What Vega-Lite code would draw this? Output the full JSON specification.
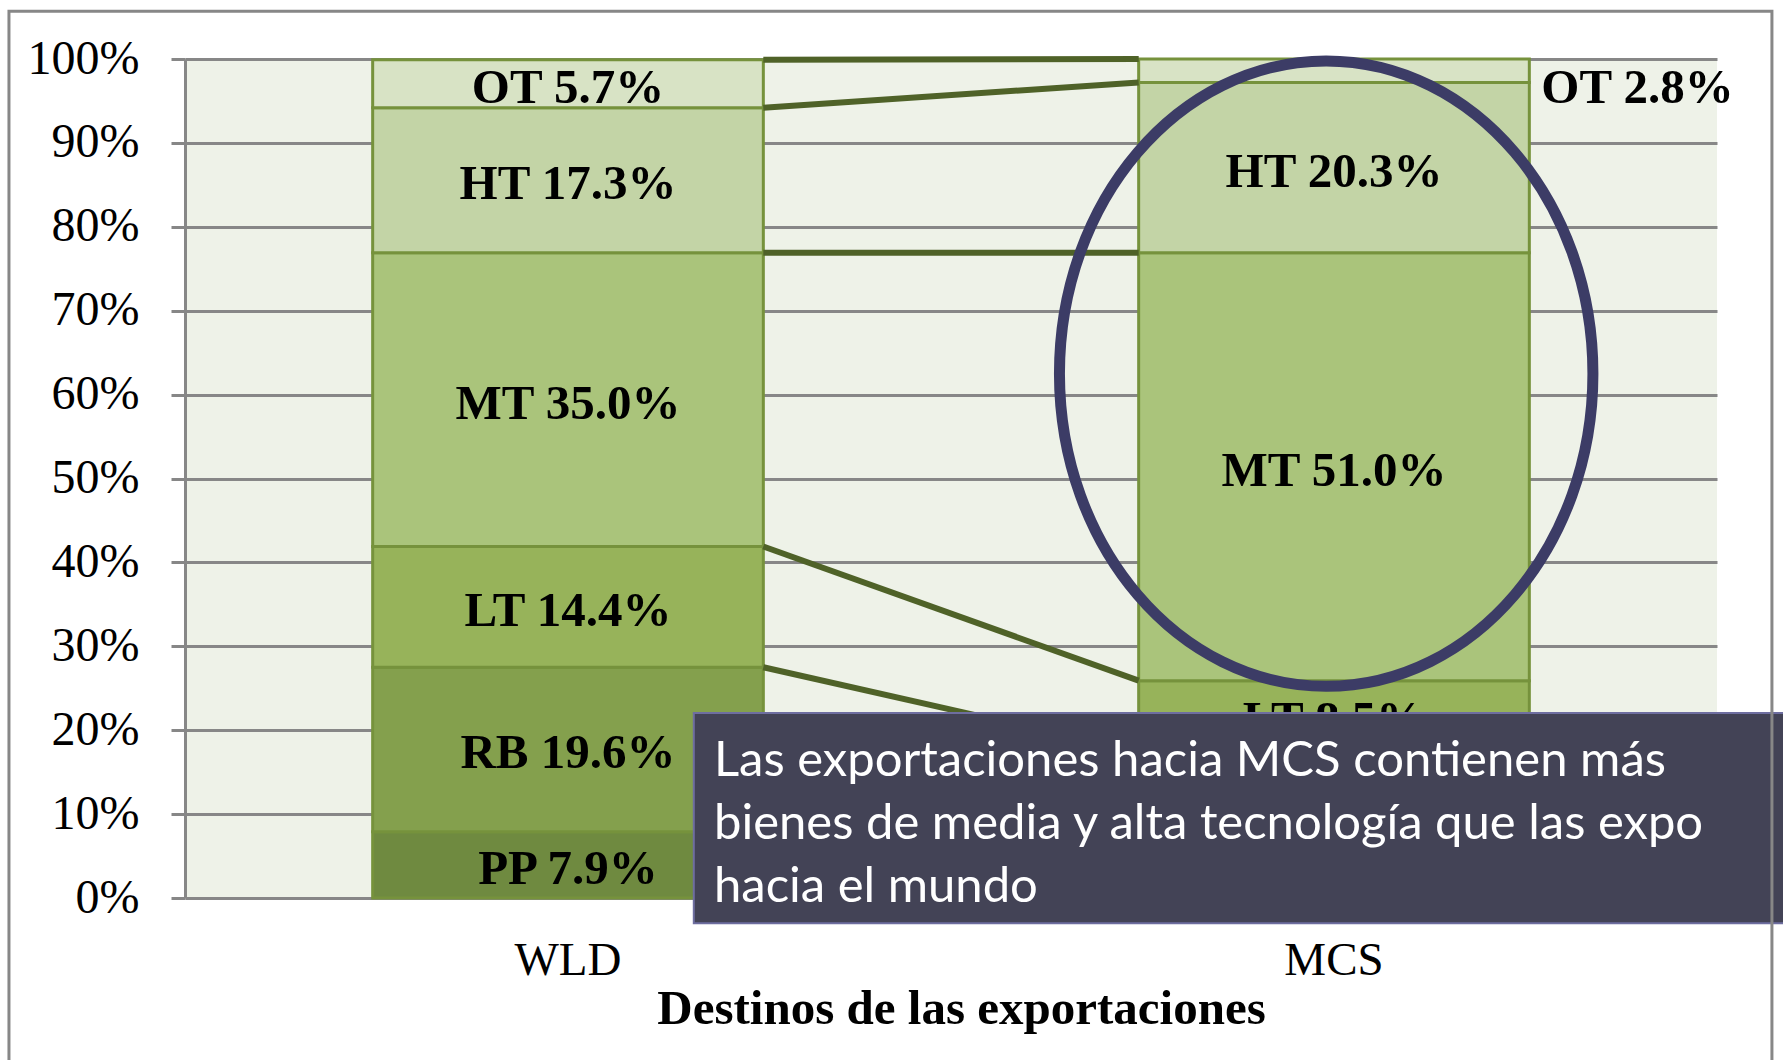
{
  "$schema": "https://vega.github.io/schema/vega-lite/v6.json",
  "width": 1532,
  "height": 839,
  "autosize": {"type": "none"},
  "padding": {"left": 185, "top": 59, "right": 66, "bottom": 162},
  "background": "white",
  "config": {"view": {"fill": "#EEF2E8", "stroke": null}},
  "datasets": {
    "mix": [
      {"dest": "WLD", "cat": "PP", "k": 1, "value": 7.9, "label": "PP 7.9%"},
      {"dest": "WLD", "cat": "RB", "k": 2, "value": 19.6, "label": "RB 19.6%"},
      {"dest": "WLD", "cat": "LT", "k": 3, "value": 14.4, "label": "LT 14.4%"},
      {"dest": "WLD", "cat": "MT", "k": 4, "value": 35.0, "label": "MT 35.0%"},
      {"dest": "WLD", "cat": "HT", "k": 5, "value": 17.3, "label": "HT 17.3%"},
      {"dest": "WLD", "cat": "OT", "k": 6, "value": 5.7, "label": "OT 5.7%"},
      {"dest": "MCS", "cat": "PP", "k": 1, "value": 5.3, "label": "PP 5.3%"},
      {"dest": "MCS", "cat": "RB", "k": 2, "value": 12.1, "label": "RB 12.1%"},
      {"dest": "MCS", "cat": "LT", "k": 3, "value": 8.5, "label": "LT 8.5%"},
      {"dest": "MCS", "cat": "MT", "k": 4, "value": 51.0, "label": "MT 51.0%"},
      {"dest": "MCS", "cat": "HT", "k": 5, "value": 20.3, "label": "HT 20.3%"},
      {"dest": "MCS", "cat": "OT", "k": 6, "value": 2.8, "label": "OT 2.8%"}
    ],
    "note": [
      {"text": ["Las exportaciones hacia MCS contienen más", "bienes de media y alta tecnología que las expo", "hacia el mundo"]}
    ],
    "one": [{"id": 1}]
  },
  "layer": [
    {
      "data": {"name": "mix"},
      "transform": [
        {"stack": "value", "groupby": ["dest"], "sort": [{"field": "k"}], "as": ["y0", "y1"]}
      ],
      "mark": {"type": "bar", "stroke": "#76923C", "strokeWidth": 3},
      "encoding": {
        "x": {
          "field": "dest", "type": "nominal", "sort": ["WLD", "MCS"],
          "scale": {"paddingInner": 0.49, "paddingOuter": 0.245},
          "axis": {
            "title": "Destinos de las exportaciones",
            "titleFont": "Liberation Serif", "titleFontSize": 49, "titleFontWeight": "bold", "titleColor": "black",
            "titleX": 776, "titleY": 125, "titleBaseline": "alphabetic",
            "labelFont": "Liberation Serif", "labelFontSize": 47, "labelColor": "black", "labelAngle": 0,
            "labelPadding": 39, "ticks": false, "domain": false
          }
        },
        "y": {
          "field": "y0", "type": "quantitative",
          "scale": {"domain": [0, 100], "nice": false},
          "axis": {
            "values": [0, 10, 20, 30, 40, 50, 60, 70, 80, 90, 100],
            "labelExpr": "datum.value + '%'",
            "title": null,
            "grid": true, "gridColor": "#878787", "gridWidth": 3,
            "tickColor": "#878787", "tickWidth": 3, "tickSize": 14,
            "domainColor": "#878787", "domainWidth": 3,
            "labelFont": "Liberation Serif", "labelFontSize": 48, "labelColor": "black", "labelPadding": 32
          }
        },
        "y2": {"field": "y1"},
        "color": {
          "field": "cat", "type": "nominal",
          "scale": {"domain": ["PP", "RB", "LT", "MT", "HT", "OT"], "range": ["#6F8A40", "#84A04D", "#97B35A", "#AAC47B", "#C3D4A6", "#D8E3C5"]},
          "legend": null
        }
      }
    },
    {
      "data": {"name": "mix"},
      "transform": [
        {"stack": "value", "groupby": ["dest"], "sort": [{"field": "k"}], "as": ["y0", "y1"]},
        {"fold": ["y0", "y1"], "as": ["edge", "pos"]},
        {"aggregate": [{"op": "mean", "field": "pos", "as": "mid"}], "groupby": ["dest", "cat", "label"]},
        {"filter": "datum.dest === 'WLD' || datum.cat === 'LT' || datum.cat === 'MT' || datum.cat === 'HT'"}
      ],
      "mark": {"type": "text", "font": "Liberation Serif", "fontSize": 49, "fontWeight": "bold", "color": "black", "baseline": "middle", "align": "center", "dy": 4},
      "encoding": {
        "x": {"field": "dest", "type": "nominal", "sort": ["WLD", "MCS"]},
        "y": {"field": "mid", "type": "quantitative"},
        "text": {"field": "label"}
      }
    },
    {
      "data": {"name": "mix"},
      "transform": [
        {"stack": "value", "groupby": ["dest"], "sort": [{"field": "k"}], "as": ["y0", "y1"]},
        {"fold": ["y0", "y1"], "as": ["edge", "pos"]},
        {"aggregate": [{"op": "mean", "field": "pos", "as": "mid"}], "groupby": ["dest", "cat", "label"]},
        {"filter": "datum.dest === 'MCS' && datum.cat === 'OT'"}
      ],
      "mark": {"type": "text", "font": "Liberation Serif", "fontSize": 49, "fontWeight": "bold", "color": "black", "baseline": "middle", "align": "left", "dx": 12, "dy": 17},
      "encoding": {
        "x": {"field": "dest", "type": "nominal", "sort": ["WLD", "MCS"], "bandPosition": 1},
        "y": {"field": "mid", "type": "quantitative"},
        "text": {"field": "label"}
      }
    },
    {
      "data": {"name": "mix"},
      "transform": [
        {"stack": "value", "groupby": ["dest"], "sort": [{"field": "k"}], "as": ["y0", "y1"]},
        {"pivot": "dest", "value": "y1", "groupby": ["cat"]}
      ],
      "mark": {"type": "rule", "color": "#4F6228", "strokeWidth": 6},
      "encoding": {
        "x": {"datum": "WLD", "bandPosition": 1},
        "x2": {"datum": "MCS", "bandPosition": 0},
        "y": {"field": "WLD", "type": "quantitative"},
        "y2": {"field": "MCS"}
      }
    },
    {
      "data": {"name": "one"},
      "mark": {"type": "point", "shape": "M -0.853 0 A 0.853 1 0 1 1 0.853 0 A 0.853 1 0 1 1 -0.853 0 Z", "size": 391125, "filled": false, "stroke": "#3C3C66", "strokeWidth": 11, "opacity": 1},
      "encoding": {
        "x": {"datum": "MCS", "bandPosition": 0.48},
        "y": {"datum": 62.5, "type": "quantitative"}
      }
    },
    {
      "data": {"name": "one"},
      "mark": {"type": "rect", "fill": "#434356", "stroke": "#6E6EA0", "strokeWidth": 2},
      "encoding": {
        "x": {"datum": "WLD", "bandPosition": 0.822},
        "x2": {"datum": "MCS", "bandPosition": 1.7},
        "y": {"datum": 22.05, "type": "quantitative"},
        "y2": {"datum": -3.0}
      }
    },
    {
      "data": {"name": "note"},
      "mark": {"type": "text", "font": "Lato", "fontSize": 49, "color": "white", "align": "left", "baseline": "alphabetic", "lineHeight": 63},
      "encoding": {
        "x": {"datum": "WLD", "bandPosition": 0.8736},
        "y": {"datum": 14.5, "type": "quantitative"},
        "text": {"field": "text"}
      }
    },
    {
      "data": {"name": "one"},
      "mark": {"type": "rect", "fill": "transparent", "stroke": "#878787", "strokeWidth": 3},
      "encoding": {
        "x": {"datum": "WLD", "bandPosition": -0.931},
        "x2": {"datum": "MCS", "bandPosition": 1.621},
        "y": {"datum": 105.7, "type": "quantitative"},
        "y2": {"datum": -30}
      }
    }
  ]
}
